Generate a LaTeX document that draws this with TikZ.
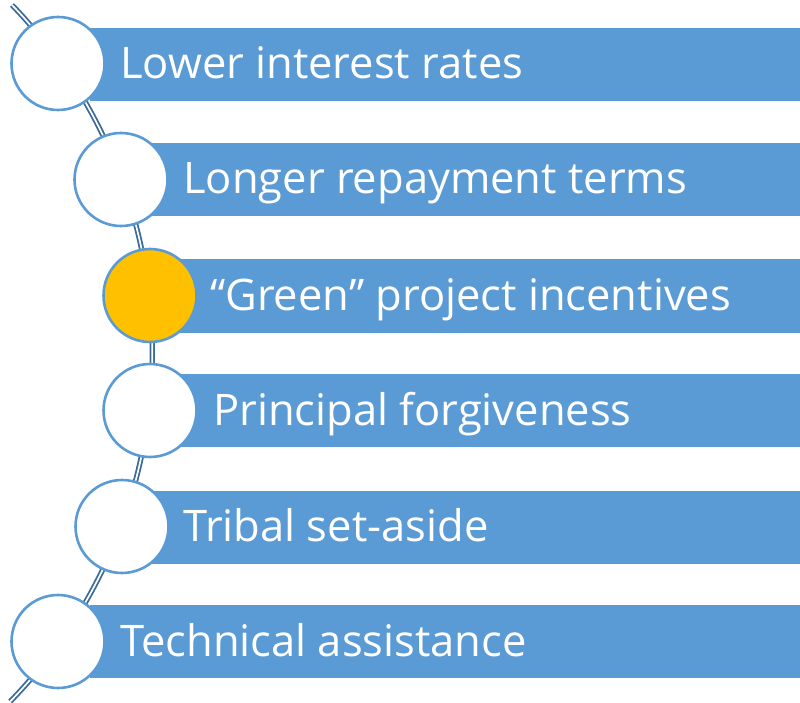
\documentclass[tikz,border=0pt]{standalone}
\usepackage{fontspec}
\setmainfont{Open Sans}
\definecolor{barblue}{HTML}{5B9BD5}
\definecolor{linkblue}{HTML}{3A6A98}
\definecolor{gold}{HTML}{FFC000}
\begin{document}
\begin{tikzpicture}[x=1pt,y=-1pt,
  barbox/.style={fill=barblue,draw=none,minimum height=73pt,inner sep=0pt,anchor=west},
  ring/.style={circle,draw=barblue,line width=2.6pt,fill=white,minimum size=93pt,inner sep=0pt},
  lbl/.style={anchor=base west,text=white,font=\fontsize{43.5}{48}\selectfont,inner sep=0pt},
  link/.style={draw=linkblue,line width=1.8pt,double=white,double distance=1.7pt}]
\useasboundingbox (0,0) rectangle (800,703);
% connecting arc
\coordinate (top) at (12,5);
\draw[link] (top) arc[start angle=-44, end angle=44.3, radius=500];
% bars
\node[barbox,minimum width=710pt] (b1) at (90,64.5) {};
\node[barbox,minimum width=650pt] (b2) at (150,179.5) {};
\node[barbox,minimum width=620pt] (b3) at (180,296) {};
\node[barbox,minimum width=620pt] (b4) at (180,410.5) {};
\node[barbox,minimum width=650pt] (b5) at (150,527) {};
\node[barbox,minimum width=710pt] (b6) at (90,641.5) {};
% circles
\node[ring] (c1) at (58,63.5) {};
\node[ring] (c2) at (121,179.5) {};
\node[ring,fill=gold] (c3) at (150,295.5) {};
\node[ring] (c4) at (150,410.5) {};
\node[ring] (c5) at (122,526.5) {};
\node[ring] (c6) at (58,641.5) {};
% labels
\node[lbl] (t1) at (120,79) {Lower interest rates};
\node[lbl] (t2) at (183,194) {Longer repayment terms};
\node[lbl] (t3) at (210,310.5) {“Green” project incentives};
\node[lbl] (t4) at (213,425) {Principal forgiveness};
\node[lbl] (t5) at (183,541.5) {Tribal set-aside};
\node[lbl] (t6) at (120,656) {Technical assistance};
\end{tikzpicture}
\end{document}
